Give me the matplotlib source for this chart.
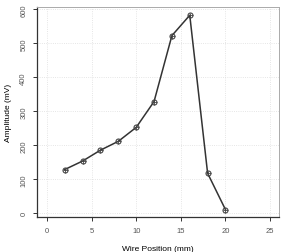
import matplotlib
matplotlib.use('Agg')
import matplotlib.pyplot as plt

position = [2, 4, 6, 8, 10, 12, 14, 16, 18, 20]
amplitude = [129, 154, 186, 212, 253, 329, 523, 583, 118, 11]
xticks = [0, 5, 10, 15, 20, 25]
yticks = [0, 100, 200, 300, 400, 500, 600]

plt.rcParams['font.family'] = 'Liberation Sans'
fig = plt.figure(figsize=(2.81, 2.53), dpi=100)
ax = fig.add_axes([0.132, 0.138, 0.861, 0.830])

ax.plot(position, amplitude, color='#333333', lw=1.1, zorder=3)
ax.plot(position, amplitude, 'o', ms=3.6, mfc='none', mec='#444444', mew=0.8, zorder=4)
ax.plot(position, amplitude, '+', ms=3.6, mec='#444444', mew=0.6, zorder=4)

ax.set_xlim(-1.1, 26.0)
ax.set_ylim(-11, 607)
ax.set_xticks(xticks)
ax.set_yticks(yticks)
ax.grid(True, color='#dddddd', ls=':', lw=0.6)
ax.set_axisbelow(True)

for s in ['top', 'right']:
    ax.spines[s].set_color('#aaaaaa')
    ax.spines[s].set_linewidth(0.7)
for s in ['left', 'bottom']:
    ax.spines[s].set_color('#333333')
    ax.spines[s].set_linewidth(0.9)

ax.tick_params(direction='out', length=3, width=0.7, color='#333333',
               labelsize=5.5, labelcolor='#555555', pad=4)
plt.setp(ax.get_yticklabels(), rotation=90, va='center')

ax.set_xlabel('Wire Position (mm)', fontsize=6, labelpad=8)
ax.set_ylabel('Amplitude (mV)', fontsize=6, labelpad=6)

fig.savefig('out.png', dpi=100)
plt.close()
